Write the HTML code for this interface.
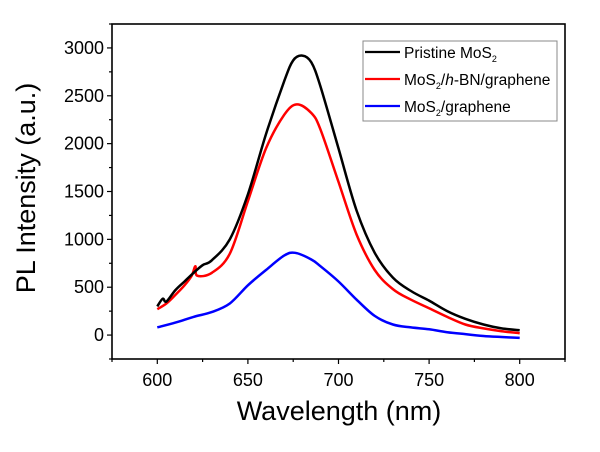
<!DOCTYPE html>
<html><head><meta charset="utf-8"><style>
body{margin:0;background:#fff;}
svg text{font-family:"Liberation Sans",Arial,sans-serif;}
</style></head><body>
<svg id="chart" width="600" height="447"></svg>
<script>
const xTicks=[600,650,700,750,800];
const yTicks=[0,500,1000,1500,2000,2500,3000];
const pristineX=[600,603,605,610,615,620,625,630,640,650,660,670,675,680,685,690,700,710,720,730,740,750,760,770,780,790,800];
const pristineY=[300,380,350,470,560,650,730,780,1000,1470,2100,2650,2870,2920,2850,2600,1950,1300,860,600,460,360,250,170,110,70,50];
const hbnX=[600,605,610,615,619,621,622,630,640,650,660,670,677,685,690,700,710,720,730,740,750,760,770,780,790,800];
const hbnY=[270,330,420,520,620,720,620,650,850,1400,1950,2300,2410,2320,2150,1600,1050,680,480,370,280,190,110,70,40,20];
const grX=[600,610,620,630,640,650,660,670,676,685,690,700,710,720,730,740,750,760,770,780,790,800];
const grY=[80,130,190,240,330,520,680,830,860,790,720,560,370,200,110,80,60,30,10,-10,-20,-30];
const L=112,R=565,T=24,B=359,X0=575,X1=825,Y0=-250,Y1=3250;
const sx=v=>L+(v-X0)/(X1-X0)*(R-L), sy=v=>B-(v-Y0)/(Y1-Y0)*(B-T);
const svg=document.getElementById('chart');const NS='http://www.w3.org/2000/svg';
function mk(t,a,txt){const e=document.createElementNS(NS,t);for(const k in a)e.setAttribute(k,a[k]);if(txt!==undefined)e.textContent=txt;svg.appendChild(e);return e;}
function series(xs,ys,c,name){
const P=xs.map((x,i)=>[sx(x),sy(ys[i])]);
let d='M'+P[0][0].toFixed(1)+','+P[0][1].toFixed(1);
for(let i=0;i<P.length-1;i++){const p0=P[Math.max(0,i-1)],p1=P[i],p2=P[i+1],p3=P[Math.min(P.length-1,i+2)];
const c1=[p1[0]+(p2[0]-p0[0])/6,p1[1]+(p2[1]-p0[1])/6],c2=[p2[0]-(p3[0]-p1[0])/6,p2[1]-(p3[1]-p1[1])/6];
d+='C'+c1.map(v=>v.toFixed(1)).join(',')+' '+c2.map(v=>v.toFixed(1)).join(',')+' '+p2[0].toFixed(1)+','+p2[1].toFixed(1);}
const p=mk('path',{d:d,fill:'none',stroke:c,'stroke-width':2.5,'stroke-linejoin':'round'});

}
series(grX,grY,'#0000ff','mosgraphene-line');
series(hbnX,hbnY,'#ff0000','hbn-line');
series(pristineX,pristineY,'#000','pristine-line');
const fr=mk('rect',{x:L,y:T,width:R-L,height:B-T,fill:'none',stroke:'#000','stroke-width':1.6});


for(let v=575;v<=825;v+=25){const x=sx(v);const big=v%50===0;mk('line',{x1:x,y1:B,x2:x,y2:B+(big?5:3),stroke:'#000','stroke-width':1.2});}
xTicks.forEach(v=>{const t=mk('text',{x:sx(v),y:B+27,'font-size':18,'text-anchor':'middle'},v);

});
for(let v=-250;v<=3250;v+=250){const y=sy(v);const big=v%500===0;mk('line',{x1:L,y1:y,x2:L-(big?5:3),y2:y,stroke:'#000','stroke-width':1.2});}
yTicks.forEach(v=>{const t=mk('text',{x:L-8,y:sy(v)+6,'font-size':18,'text-anchor':'end'},v);

});
</script>
<svg width="600" height="447" style="position:absolute;left:0;top:0">
<text x="339" y="420" font-size="27" text-anchor="middle">Wavelength (nm)</text>
<text transform="translate(35,188) rotate(-90)" font-size="27" text-anchor="middle">PL Intensity (a.u.)</text>
<g>
<rect x="363" y="41" width="194" height="80" fill="#fff" stroke="#888" stroke-width="1"/>
<line x1="365" y1="52" x2="400" y2="52" stroke="#000" stroke-width="2.3"/>
<text x="404" y="58" font-size="15.5">Pristine MoS<tspan font-size="9" dy="4">2</tspan></text>
<line x1="365" y1="79" x2="400" y2="79" stroke="#f00" stroke-width="2.3"/>
<text x="404" y="85" font-size="15.5">MoS<tspan font-size="9" dy="4">2</tspan><tspan dy="-4">/</tspan><tspan font-style="italic">h</tspan>-BN/graphene</text>
<line x1="365" y1="106" x2="400" y2="106" stroke="#00f" stroke-width="2.3"/>
<text x="404" y="112" font-size="15.5">MoS<tspan font-size="9" dy="4">2</tspan><tspan dy="-4">/graphene</tspan></text>
</g>
</svg>
</body></html>
